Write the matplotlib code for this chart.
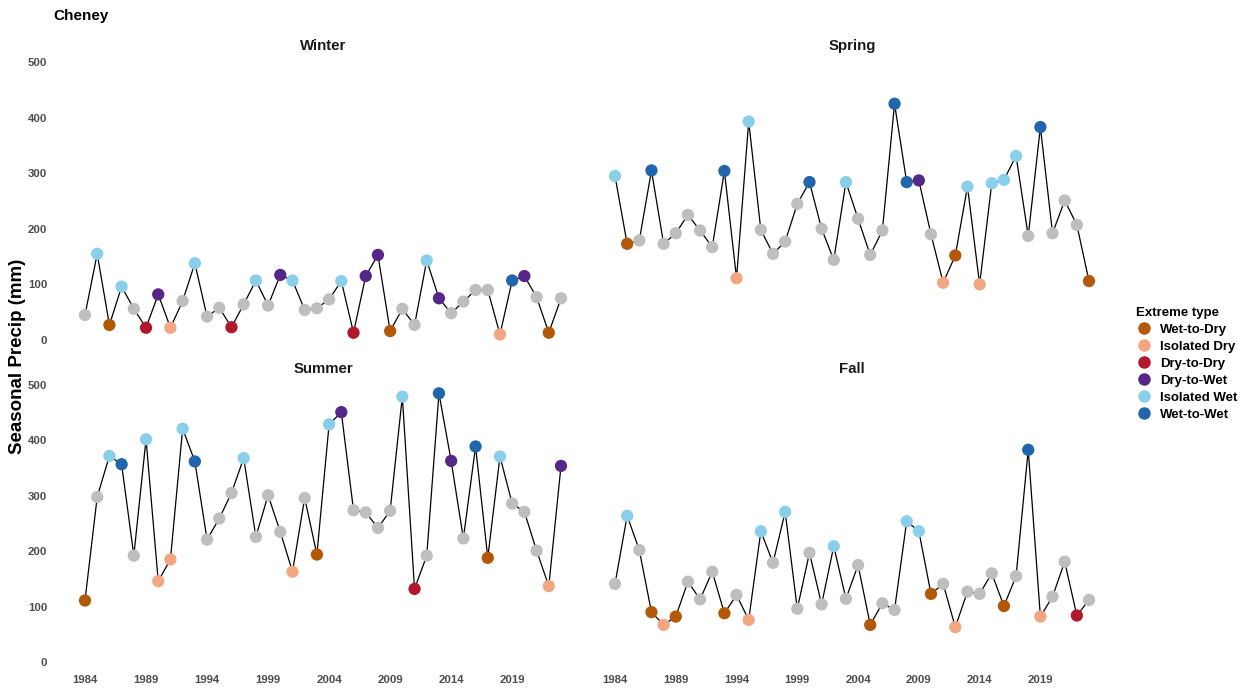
import numpy as np
import matplotlib
matplotlib.use("Agg")
import matplotlib.pyplot as plt
from matplotlib.lines import Line2D

plt.rcParams['font.family'] = ['Liberation Sans', 'DejaVu Sans']

years = np.arange(1984, 2024)

# seasonal totals (mm)
winter = [45, 155, 27, 96, 56, 22, 82, 22, 70, 138,
          42, 58, 23, 64, 107, 62, 117, 107, 54, 57,
          73, 106, 13, 115, 153, 16, 56, 27, 143, 75,
          48, 69, 90, 90, 10, 107, 115, 77, 13, 75]
spring = [295, 173, 179, 305, 173, 192, 225, 197, 167, 304,
          111, 393, 198, 155, 177, 245, 284, 200, 144, 284,
          218, 153, 197, 425, 284, 287, 190, 103, 152, 276,
          100, 282, 288, 331, 187, 383, 192, 251, 207, 106]
summer = [111, 298, 372, 357, 192, 402, 146, 185, 421, 362,
          221, 259, 305, 368, 226, 301, 235, 163, 296, 194,
          429, 451, 274, 270, 242, 273, 479, 132, 192, 485,
          363, 223, 389, 188, 371, 286, 271, 201, 137, 354]
fall = [141, 264, 202, 90, 67, 82, 145, 113, 163, 88,
        121, 76, 236, 179, 271, 96, 197, 104, 209, 114,
        175, 67, 106, 94, 254, 236, 123, 141, 63, 127,
        123, 160, 101, 155, 383, 82, 118, 181, 84, 112]

# extreme type per year: WD, ID, DD, DW, IW, WW, N (none)
winter_type = ["N", "IW", "WD", "IW", "N", "DD", "DW", "ID", "N", "IW",
               "N", "N", "DD", "N", "IW", "N", "DW", "IW", "N", "N",
               "N", "IW", "DD", "DW", "DW", "WD", "N", "N", "IW", "DW",
               "N", "N", "N", "N", "ID", "WW", "DW", "N", "WD", "N"]
spring_type = ["IW", "WD", "N", "WW", "N", "N", "N", "N", "N", "WW",
               "ID", "IW", "N", "N", "N", "N", "WW", "N", "N", "IW",
               "N", "N", "N", "WW", "WW", "DW", "N", "ID", "WD", "IW",
               "ID", "IW", "IW", "IW", "N", "WW", "N", "N", "N", "WD"]
summer_type = ["WD", "N", "IW", "WW", "N", "IW", "ID", "ID", "IW", "WW",
               "N", "N", "N", "IW", "N", "N", "N", "ID", "N", "WD",
               "IW", "DW", "N", "N", "N", "N", "IW", "DD", "N", "WW",
               "DW", "N", "WW", "WD", "IW", "N", "N", "N", "ID", "DW"]
fall_type = ["N", "IW", "N", "WD", "ID", "WD", "N", "N", "N", "WD",
             "N", "ID", "IW", "N", "IW", "N", "N", "N", "IW", "N",
             "N", "WD", "N", "N", "IW", "IW", "WD", "N", "ID", "N",
             "N", "N", "WD", "N", "WW", "ID", "N", "N", "DD", "N"]

type_codes = ["WD", "ID", "DD", "DW", "IW", "WW"]
type_labels = ["Wet-to-Dry", "Isolated Dry", "Dry-to-Dry",
               "Dry-to-Wet", "Isolated Wet", "Wet-to-Wet"]
type_colors = ["#B35806", "#F4A582", "#B2182B", "#542788", "#89CFEA", "#2166AC"]
colmap = dict(zip(type_codes, type_colors))
colmap["N"] = "#BEBEBE"

W, H = 1247, 689
fig = plt.figure(figsize=(W / 100, H / 100), dpi=100)


def px_axes(x0, x1, y0, y1):
    # pixel box -> figure fraction
    return fig.add_axes([x0 / W, 1 - y1 / H, (x1 - x0) / W, (y1 - y0) / H])


panels = [
    ("Winter", winter, winter_type, (61.2, 584.8, 53.7, 348.3), True, False),
    ("Spring", spring, spring_type, (591.3, 1112.7, 53.7, 348.3), False, False),
    ("Summer", summer, summer_type, (61.2, 584.8, 376.7, 670.3), True, True),
    ("Fall", fall, fall_type, (591.3, 1112.7, 376.7, 670.3), False, True),
]

tick_col = "#4D4D4D"
for name, vals, types, box, show_y, show_x in panels:
    ax = px_axes(*box)
    ax.plot(years, vals, color="black", lw=0.9, zorder=1)
    ax.scatter(years, vals, c=[colmap[t] for t in types], s=78,
               linewidths=0, zorder=2)
    ax.set_xlim(1982.05, 2024.95)
    ax.set_ylim(-15, 515)
    for s in ax.spines.values():
        s.set_visible(False)
    ax.set_xticks(np.arange(1984, 2020, 5))
    ax.set_yticks(np.arange(0, 501, 100))
    ax.tick_params(length=0, labelsize=8.2, labelcolor=tick_col)
    ax.tick_params(axis="y", pad=10)
    ax.tick_params(axis="x", pad=3.5)
    for lab in ax.get_xticklabels() + ax.get_yticklabels():
        lab.set_fontweight("bold")
    if not show_y:
        ax.set_yticklabels([])
    if not show_x:
        ax.set_xticklabels([])
    ax.set_title(name, fontsize=10.8, fontweight="bold", pad=3, color="#1A1A1A")

fig.text(53 / W, 1 - 16 / H, "Cheney", fontsize=11, fontweight="bold",
         ha="left", va="center")
fig.text(18 / W, 1 - 356 / H, "Seasonal Precip (mm)", fontsize=13.5,
         fontweight="bold", rotation=90, ha="center", va="center")

handles = [Line2D([], [], marker="o", linestyle="none", markersize=9,
                  markerfacecolor=c, markeredgewidth=0) for c in type_colors]
leg = fig.legend(handles, type_labels, title="Extreme type",
                 loc="upper left", bbox_to_anchor=(1136 / W, 1 - 307 / H),
                 frameon=False, fontsize=9.5, title_fontsize=9.5,
                 borderpad=0, borderaxespad=0, handlelength=1.2,
                 handletextpad=0.6, labelspacing=0.36, alignment="left")
leg.get_title().set_fontweight("bold")
for t in leg.get_texts():
    t.set_fontweight("bold")

fig.savefig("out.png", dpi=100)
